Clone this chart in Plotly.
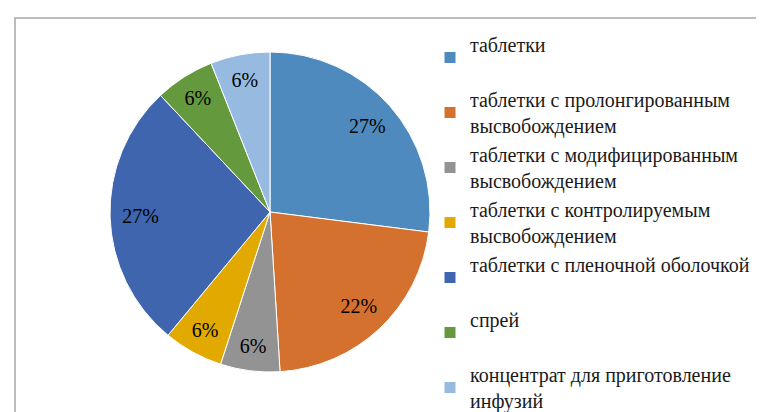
import plotly.graph_objects as go

categories = [
    "таблетки<br>&nbsp;",
    "таблетки с пролонгированным<br>высвобождением",
    "таблетки с модифицированным<br>высвобождением",
    "таблетки с контролируемым<br>высвобождением",
    "таблетки с пленочной оболочкой<br>&nbsp;",
    "спрей<br>&nbsp;",
    "концентрат для приготовление<br>инфузий",
]
values = [27, 22, 6, 6, 27, 6, 6]
colors = ["#4f8abe", "#d5712e", "#939393", "#e2a900", "#3e65ad", "#65993d", "#97bbe0"]

W, H = 764, 412
cx, cy, r = 262, 204, 160
domain = dict(x=[(cx - r) / W, (cx + r) / W], y=[(H - cy - r) / H, (H - cy + r) / H])

SERIF = "'Times New Roman', 'Liberation Serif', serif"

fig = go.Figure()
# filled pie (slices + legend)
fig.add_trace(go.Pie(
    labels=categories,
    values=values,
    sort=False,
    direction="clockwise",
    rotation=0,
    marker=dict(colors=colors, line=dict(color="white", width=1)),
    textinfo="none",
    domain=domain,
    hoverinfo="label+percent",
))
# transparent ring on top, only to place the percentage labels near the rim
fig.add_trace(go.Pie(
    labels=categories,
    values=values,
    sort=False,
    direction="clockwise",
    rotation=0,
    hole=0.62,
    marker=dict(colors=["rgba(0,0,0,0)"] * len(values), line=dict(width=0)),
    textinfo="percent",
    texttemplate="%{percent:.0%}",
    textposition="inside",
    insidetextorientation="horizontal",
    textfont=dict(family=SERIF, size=20, color="black"),
    domain=domain,
    showlegend=False,
    hoverinfo="skip",
))

fig.add_shape(type="rect", xref="paper", yref="paper",
              x0=7 / W, x1=1.01, y0=-0.01, y1=(H - 10) / H,
              line=dict(color="#a6a6a6", width=1.5))

fig.update_layout(
    width=W, height=H,
    margin=dict(l=0, r=0, t=0, b=0),
    paper_bgcolor="white",
    plot_bgcolor="white",
    showlegend=True,
    legend=dict(
        x=422 / W, y=(H - 27) / H, xanchor="left", yanchor="top",
        font=dict(family=SERIF, size=20, color="#1a1a1a"),
        itemwidth=30,
        tracegroupgap=0,
    ),
)

fig.write_html("out.html")
